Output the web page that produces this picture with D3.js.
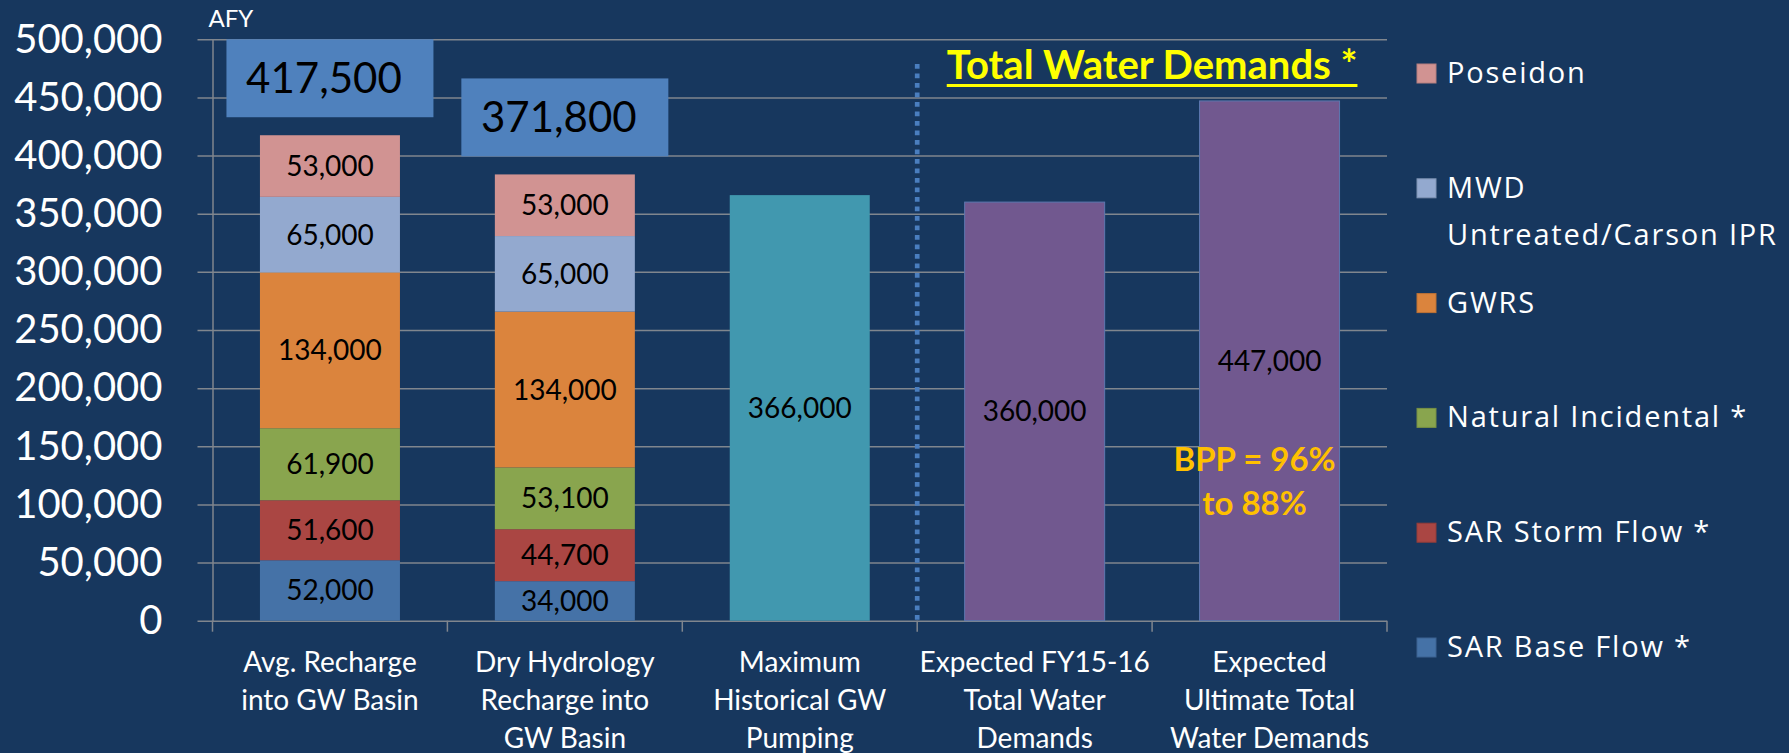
<!DOCTYPE html>
<html>
<head>
<meta charset="utf-8">
<script src="https://cdn.jsdelivr.net/npm/d3@7"></script>
<style>
  html, body { margin: 0; padding: 0; background: #17375e; }
  svg { display: block; }
</style>
</head>
<body>
<div id="chart"></div>
<script>
// categories (multi-line labels)
const categories = [
  ["Avg. Recharge", "into GW Basin"],
  ["Dry Hydrology", "Recharge into", "GW Basin"],
  ["Maximum", "Historical GW", "Pumping"],
  ["Expected FY15-16", "Total Water", "Demands"],
  ["Expected", "Ultimate Total", "Water Demands"]
];
// stacked supply series (bottom -> top)
const sarBaseFlow  = [52000, 34000, 0, 0, 0];
const sarStormFlow = [51600, 44700, 0, 0, 0];
const naturalIncid = [61900, 53100, 0, 0, 0];
const gwrs         = [134000, 134000, 0, 0, 0];
const mwdCarson    = [65000, 65000, 0, 0, 0];
const poseidon     = [53000, 53000, 0, 0, 0];
// single bars
const pumping      = [0, 0, 366000, 0, 0];
const demands      = [0, 0, 0, 360000, 447000];
// callout box labels over the stacks
const boxLabels    = ["417,500", "371,800", null, null, null];
const yTicks       = [0, 50000, 100000, 150000, 200000, 250000, 300000, 350000, 400000, 450000, 500000];

const seriesKeys  = ["sarBase", "sarStorm", "natural", "gwrs", "mwd", "poseidon"];
const seriesNames = {
  sarBase: ["SAR Base Flow *"],
  sarStorm: ["SAR Storm Flow *"],
  natural: ["Natural Incidental *"],
  gwrs: ["GWRS"],
  mwd: ["MWD", "Untreated/Carson IPR"],
  poseidon: ["Poseidon"]
};
const colors = {
  sarBase: "#4572a7", sarStorm: "#aa4643", natural: "#89a54e",
  gwrs: "#db843d", mwd: "#93a9cf", poseidon: "#d19392",
  pumping: "#4198af", demands: "#71588f"
};

const W = 1789, H = 753;
const svg = d3.select("#chart").append("svg").attr("width", W).attr("height", H);
svg.append("rect").attr("width", W).attr("height", H).attr("fill", "#17375e");

const FONT = "Lato, 'Open Sans', sans-serif";
const GRID = "#80868e";
const plot = {left: 212.5, right: 1387, top: 39.3, bottom: 620.7};

const x = d3.scaleBand()
  .domain(d3.range(categories.length))
  .range([plot.left, plot.right])
  .paddingInner(0.404)
  .paddingOuter(0.202);
const step = x.step();
const y = d3.scaleLinear().domain([0, 500000]).range([plot.bottom, plot.top]);

const rows = categories.map((c, i) => ({
  i: i,
  sarBase: sarBaseFlow[i], sarStorm: sarStormFlow[i], natural: naturalIncid[i],
  gwrs: gwrs[i], mwd: mwdCarson[i], poseidon: poseidon[i]
}));
const stacked = d3.stack().keys(seriesKeys)(rows);

// grid lines
svg.append("g")
  .attr("transform", `translate(${plot.left - 15},0)`)
  .call(d3.axisRight(y).tickValues(yTicks).tickSize(plot.right - plot.left + 15).tickFormat(""))
  .call(g => g.select(".domain").remove())
  .call(g => g.selectAll("line").attr("stroke", GRID).attr("stroke-width", 1.5));

// y axis
svg.append("g")
  .attr("transform", `translate(${plot.left},0)`)
  .call(d3.axisLeft(y).tickValues(yTicks).tickSize(0).tickPadding(50).tickFormat(d3.format(",")))
  .call(g => g.select(".domain").attr("stroke", GRID).attr("stroke-width", 1.5))
  .call(g => g.selectAll("text")
    .attr("fill", "#ffffff").attr("font-family", FONT).attr("font-size", 40));

// x axis: ticks at band boundaries
const bounds = d3.range(categories.length + 1).map(i => plot.left + i * step);
svg.append("g").selectAll("line")
  .data(bounds).enter().append("line")
    .attr("x1", d => d).attr("x2", d => d)
    .attr("y1", plot.bottom).attr("y2", plot.bottom + 11)
    .attr("stroke", GRID).attr("stroke-width", 1.5);

const xLabels = svg.append("g").selectAll("text")
  .data(categories).enter().append("text")
    .attr("text-anchor", "middle")
    .attr("font-family", FONT).attr("font-size", 28)
    .attr("fill", "#ffffff");
xLabels.each(function(lines, i) {
  d3.select(this).selectAll("tspan")
    .data(lines).enter().append("tspan")
      .attr("x", x(i) + x.bandwidth() / 2)
      .attr("y", (d, j) => 672 + j * 38.2)
      .text(d => d);
});

// AFY unit label
svg.append("text")
  .attr("x", plot.left - 4).attr("y", 27)
  .attr("font-family", FONT).attr("font-size", 24).attr("fill", "#ffffff")
  .text("AFY");

// stacked bars
const layers = svg.append("g").selectAll("g")
  .data(stacked).enter().append("g")
    .attr("fill", d => colors[d.key]);
layers.selectAll("rect")
  .data(d => d.filter(s => s[1] > s[0])).enter().append("rect")
    .attr("x", d => x(d.data.i))
    .attr("width", x.bandwidth())
    .attr("y", d => y(d[1]))
    .attr("height", d => y(d[0]) - y(d[1]));
layers.selectAll("text")
  .data(d => d.filter(s => s[1] > s[0])).enter().append("text")
    .attr("x", d => x(d.data.i) + x.bandwidth() / 2)
    .attr("y", d => (y(d[0]) + y(d[1])) / 2 + 10)
    .attr("text-anchor", "middle")
    .attr("font-family", FONT).attr("font-size", 28).attr("fill", "#000000")
    .text(d => d3.format(",")(d[1] - d[0]));

// single bars (pumping + demands)
const singles = categories.map((c, i) => ({
  i: i,
  v: pumping[i] || demands[i],
  color: pumping[i] ? colors.pumping : colors.demands
})).filter(d => d.v > 0);
const sg = svg.append("g");
sg.selectAll("rect")
  .data(singles).enter().append("rect")
    .attr("x", d => x(d.i))
    .attr("width", x.bandwidth())
    .attr("y", d => y(d.v))
    .attr("height", d => y(0) - y(d.v))
    .attr("fill", d => d.color)
    .attr("stroke", d => d.color === colors.demands ? "#5d78b0" : "none")
    .attr("stroke-width", 1);
sg.selectAll("text")
  .data(singles).enter().append("text")
    .attr("x", d => x(d.i) + x.bandwidth() / 2)
    .attr("y", d => (y(0) + y(d.v)) / 2 + 10)
    .attr("text-anchor", "middle")
    .attr("font-family", FONT).attr("font-size", 28).attr("fill", "#000000")
    .text(d => d3.format(",")(d.v));

// callout boxes above the stacks
const totals = rows.map(r => d3.sum(seriesKeys, k => r[k]));
const boxes = boxLabels.map((t, i) => ({i: i, t: t, total: totals[i]})).filter(d => d.t);
const bw = 207, bh = 78;
const bg = svg.append("g").selectAll("g")
  .data(boxes).enter().append("g")
    .attr("transform", d => `translate(${x(d.i) + x.bandwidth() / 2},${y(d.total) - 18 - bh / 2})`);
bg.append("rect")
  .attr("x", -bw / 2).attr("y", -bh / 2)
  .attr("width", bw).attr("height", bh)
  .attr("fill", "#4f81bd");
bg.append("text")
  .attr("x", -6).attr("y", 15)
  .attr("text-anchor", "middle")
  .attr("font-family", FONT).attr("font-size", 42).attr("fill", "#000000")
  .text(d => d.t);

// dotted divider between supply and demand
const divX = x(3) - (step - x.bandwidth()) / 2;
svg.append("line")
  .attr("x1", divX).attr("x2", divX)
  .attr("y1", 64).attr("y2", plot.bottom)
  .attr("stroke", "#4a7ebf").attr("stroke-width", 4.7)
  .attr("stroke-dasharray", "4.7 4.8");

// "Total Water Demands *" heading
const headX = x(4) - (step - x.bandwidth()) / 2;
const head = svg.append("text")
  .attr("x", headX).attr("y", 79)
  .attr("text-anchor", "middle")
  .attr("font-family", FONT).attr("font-weight", "bold").attr("font-size", 40)
  .attr("fill", "#ffff00")
  .text("Total Water Demands *");
const hb = head.node().getBBox();
svg.append("rect")
  .attr("x", hb.x).attr("y", 84)
  .attr("width", hb.width).attr("height", 3)
  .attr("fill", "#ffff00");

// BPP note
svg.append("text")
  .attr("text-anchor", "middle")
  .attr("font-family", FONT).attr("font-weight", "bold").attr("font-size", 33)
  .attr("fill", "#ffc000")
  .selectAll("tspan")
  .data(["BPP = 96%", "to 88%"]).enter().append("tspan")
    .attr("x", x(4) + x.bandwidth() / 2 - 15)
    .attr("y", (d, j) => 471 + j * 44)
    .text(d => d);

// legend (top -> bottom: reverse stack order)
const legendKeys = seriesKeys.slice().reverse();
const lg = svg.append("g").selectAll("g")
  .data(legendKeys).enter().append("g")
    .attr("transform", (d, i) => `translate(1417,${83 + i * 114.8})`);
lg.append("rect")
  .attr("x", 0).attr("y", -19)
  .attr("width", 19).attr("height", 19)
  .attr("fill", d => colors[d])
  .attr("stroke", d => d3.color(colors[d]).darker(0.4)).attr("stroke-width", 1);
lg.append("text")
  .attr("font-family", "'Open Sans', sans-serif").attr("font-size", 29)
  .attr("letter-spacing", 1.8)
  .attr("fill", "#ffffff")
  .selectAll("tspan")
  .data(d => seriesNames[d]).enter().append("tspan")
    .attr("x", 30)
    .attr("y", (d, j) => j * 47)
    .text(d => d);
</script>
</body>
</html>
